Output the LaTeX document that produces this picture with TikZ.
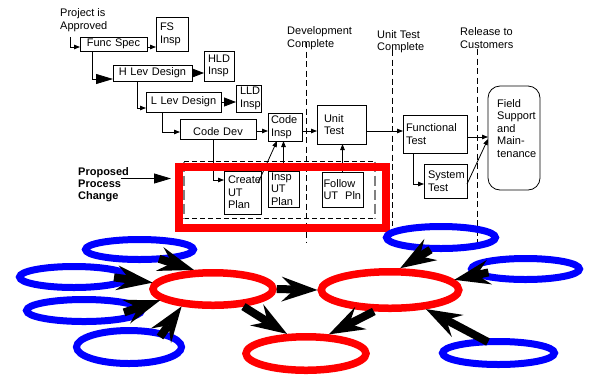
\documentclass[tikz,border=0pt]{standalone}
\usepackage{fontspec}
\setmainfont{Liberation Sans}
\usetikzlibrary{arrows.meta,shapes.geometric,calc}
\begin{document}
\begin{tikzpicture}[x=1pt,y=-1pt,
  every node/.style={font=\fontsize{11}{12.6}\selectfont},
  bx/.style={draw, line width=0.8pt, anchor=north west, inner ysep=0pt, inner xsep=3pt, align=left, outer sep=0pt},
  bxc/.style={bx, align=center},
  txt/.style={anchor=north west, inner sep=0pt, align=left},
  conn/.style={line width=0.8pt},
  sarr/.style={conn, -{Triangle[length=6pt,width=4.5pt]}},
  marr/.style={conn, -{Triangle[length=12pt,width=9pt]}},
  barr/.style={conn, -{Triangle[length=17pt,width=10pt]}},
  mile/.style={line width=0.8pt, dash pattern=on 6pt off 3.5pt},
  blueell/.style={ellipse, draw=blue, line width=7pt, inner sep=0pt},
  redell/.style={ellipse, draw=red, line width=7.5pt, inner sep=0pt},
  fat/.style={line width=8pt, -{Stealth[length=36pt,width=25pt,inset=13pt,line width=0pt]}}
]
\useasboundingbox (0,0) rectangle (593,376);

% labels
\node[txt] (projappr) at (60,8.5) {Project is\\Approved};
\node[txt] (devc) at (287,26.5) {Development\\Complete};
\node[txt] (utc) at (377,30) {Unit Test\\Complete};
\node[txt] (rel) at (460,27.5) {Release to\\Customers};
\node[txt, font=\bfseries\fontsize{11}{12}\selectfont] (proposed) at (78,167.5) {Proposed\\Process\\Change};

% boxes
\node[bxc, text width=61pt, minimum height=14pt] (funcspec) at (80,37) {Func Spec};
\node[bx, inner xsep=4pt, text width=24pt, minimum height=34pt] (fsinsp) at (156,17) {FS\\Insp};
\node[bxc, text width=73pt, minimum height=16pt] (hlev) at (113,65) {H Lev Design};
\node[bx, inner xsep=4pt, text width=22pt, minimum height=30pt] (hldinsp) at (204,51) {HLD\\Insp};
\node[bxc, text width=69pt, minimum height=20pt] (llev) at (146,92) {L Lev Design};
\node[bx, inner xsep=4pt, text width=17pt, minimum height=27pt] (lldinsp) at (236,85) {LLD\\Insp};
\node[bxc, text width=70pt, minimum height=20pt, text height=13pt, text depth=0pt] (codedev) at (180,119) {Code Dev};
\node[bx, text width=28pt, minimum height=28pt] (codeinsp) at (268,113) {Code\\Insp};
\node[bx, inner xsep=7pt, text width=35pt, minimum height=39pt] (unittest) at (317,105) {Unit\\Test};
\node[bx, text width=58pt, minimum height=38pt] (functest) at (403,115) {Functional\\Test};
\node[bx, inner xsep=4pt, text width=35pt, minimum height=34pt] (systest) at (424,164) {System\\Test};
\node[draw, line width=0.8pt, rounded corners=12pt, anchor=north west, minimum width=52pt, minimum height=104pt, inner sep=0pt, outer sep=0pt] (field) at (488,86) {};
\node[txt] (fieldtxt) at (497,99) {Field\\Support\\and\\Main-\\tenance};
\node[bx, inner xsep=4pt, text width=29pt, minimum height=43pt] (create) at (224,171) {Create\\UT\\Plan};
\node[bx, text width=25pt, minimum height=36pt] (inspplan) at (268,171) {Insp\\UT\\Plan};
\node[bx, inner xsep=1.5pt, text width=38pt, minimum height=35pt] (followplan) at (322,172) {Follow\\\mbox{UT\hspace{7pt}Pln}};

% connectors
\coordinate (start) at (70,37);
\draw[sarr] (start) |- ([yshift=-3pt]funcspec.west);
\draw[sarr] ([yshift=-3pt]funcspec.east) -- ([yshift=-3pt]funcspec.east -| fsinsp.west);
\draw[barr] ([xshift=12pt]funcspec.south west) |- ([yshift=2pt]hlev.south west);
\draw[marr] (hlev.east) -- (hlev.east -| hldinsp.west);
\draw[sarr] ([xshift=24pt]hlev.south west) |- ([yshift=4pt]llev.south west);
\draw[marr] (llev.east) -- (llev.east -| lldinsp.west);
\draw[sarr] ([xshift=16pt]llev.south west) |- ([yshift=7pt]codedev.south west);
\draw[sarr] ([yshift=-2pt]codedev.east) -- ([yshift=-2pt]codedev.east -| codeinsp.west);
\draw[sarr] ([yshift=-4pt]codeinsp.east) -- ([yshift=-4pt]codeinsp.east -| unittest.west);
\draw[sarr] ([yshift=-6.5pt]unittest.east) -- ([yshift=-6.5pt]unittest.east -| functest.west);
\draw[sarr] ([yshift=-3pt]functest.east) -- ([yshift=-3pt]functest.east -| field.west);
\draw[sarr] ([xshift=10pt]functest.south west) |- ([yshift=14pt]systest.south west);
\draw[sarr] ([yshift=-3pt]systest.east) -- ([yshift=-1pt]field.west);
\draw[sarr] ([xshift=33pt]codedev.south west) |- ([yshift=-9pt]create.north west);
\draw[sarr] ([xshift=-3pt,yshift=-12pt]create.north east) -- ([xshift=-8pt]codeinsp.south);
\draw[sarr] (inspplan.north) -- (inspplan.north |- codeinsp.south);
\draw[sarr] (followplan.north) -- (followplan.north |- unittest.south);
\coordinate (pcs) at (121,178.5);
\coordinate (pce) at (171,178.5);
\draw[barr] (pcs) -- (pce);

% milestones
\coordinate (d1t) at (306,42);  \coordinate (d1b) at (306,243);
\coordinate (d2t) at (392,50);  \coordinate (d2b) at (392,226);
\coordinate (d3t) at (477,49);  \coordinate (d3b) at (477,242);
\draw[mile] (d1t) -- (d1b);
\draw[mile] (d2t) -- (d2b);
\draw[mile] (d3t) -- (d3b);

% proposed change frame
\draw[line width=0.8pt, dash pattern=on 5pt off 3pt] (184,161.5) -- (375,161.5);
\draw[line width=0.8pt, dash pattern=on 5pt off 3pt] (184,218) -- (375,218);
\draw[gray, line width=1.5pt, dash pattern=on 10pt off 4pt] (184,161.5) -- (184,218);
\draw[gray, line width=1.5pt, dash pattern=on 10pt off 4pt] (375,161.5) -- (375,218);
\draw[red, line width=8pt] (179,167) rectangle (386,228);

% ellipses
\node[blueell, minimum width=108pt, minimum height=20pt] (e1) at (139.5,249.5) {};
\node[blueell, minimum width=109pt, minimum height=21pt] (e2) at (74,277) {};
\node[blueell, minimum width=115pt, minimum height=22pt] (e3) at (84,310.5) {};
\node[blueell, minimum width=105pt, minimum height=33pt] (e4) at (129,347) {};
\node[blueell, minimum width=109pt, minimum height=22pt] (e5) at (441,237.5) {};
\node[blueell, minimum width=108pt, minimum height=21pt] (e6) at (525.5,269) {};
\node[blueell, minimum width=112pt, minimum height=23pt] (e7) at (498.5,353) {};
\node[redell, minimum width=120pt, minimum height=32.5pt] (r1) at (213,289) {};
\node[redell, minimum width=120pt, minimum height=33.5pt] (r2) at (306,353.5) {};
\node[redell, minimum width=137.5pt, minimum height=36.5pt] (r3) at (390,290) {};

% fat arrows
\draw[fat] ([shift={(19.5,9.3)}]e1.center) -- (r1.135);
\draw[fat] ([shift={(40,0.4)}]e2.center) -- (r1.174);
\draw[fat] ([shift={(40,1.9)}]e3.center) -- (r1.192);
\draw[fat] ([shift={(31,-10)}]e4.center) -- (r1.209);
\draw[fat] (r1.east) -- (r3.west);
\draw[fat] (r1.-30) -- (r2.134);
\draw[fat] (r3.233) -- (r2.40);
\draw[fat] ([shift={(-10.5,12.2)}]e5.center) -- (r3.65);
\draw[fat] ([shift={(-37,3.4)}]e6.center) -- (r3.9);
\draw[fat] ([shift={(-10.5,-11)}]e7.center) -- (r3.-28);
\end{tikzpicture}
\end{document}
